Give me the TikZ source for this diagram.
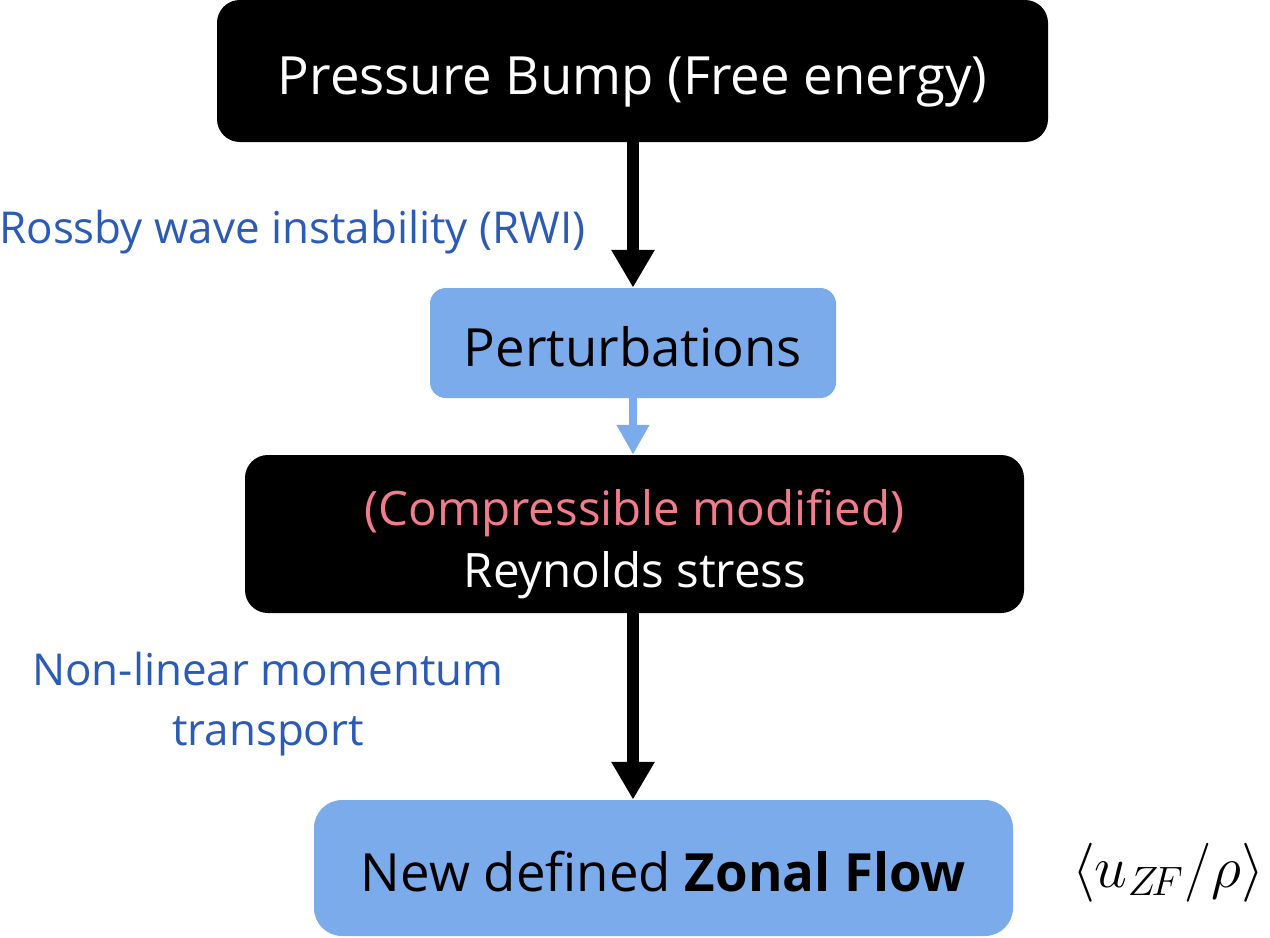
\documentclass[tikz,border=0pt]{standalone}
\usepackage{fontspec}
\setmainfont{Open Sans}
\usetikzlibrary{arrows.meta}
\definecolor{boxblue}{HTML}{7BABEB}
\definecolor{txtblue}{HTML}{2B5BB5}
\definecolor{pink}{HTML}{F27B8C}
\tikzset{
  boxtext/.style={font=\fontsize{30}{36}\selectfont},
  smalltext/.style={font=\fontsize{27}{34}\selectfont, inner sep=0pt, anchor=base},
  blackbox/.style={fill=black, text=white, rounded corners=13pt, inner sep=0pt, boxtext, text height=26.5pt, text depth=0pt},
  bluebox/.style={fill=boxblue, text=black, rounded corners=13pt, inner sep=0pt, boxtext, text height=26.5pt, text depth=0pt},
  blacklink/.style={line width=6.8pt, -{Triangle[length=21.5pt,width=23.2pt]}},
  bluelink/.style={boxblue, line width=5.1pt, -{Triangle[length=17pt,width=17.6pt]}},
  lbl/.style={text=txtblue, font=\fontsize{25}{34}\selectfont, inner sep=0pt, anchor=base}
}
\begin{document}
\begin{tikzpicture}[x=0.02cm,y=-0.02cm]
\useasboundingbox (0,0) rectangle (1270,937);
\node[blackbox, minimum width=831*0.02cm, minimum height=142*0.02cm] (bump) at (632.5,71) {Pressure Bump (Free energy)};
\node[bluebox, rounded corners=9pt, minimum width=406*0.02cm, minimum height=110*0.02cm] (pert) at (633,343) {Perturbations};
\node[blackbox, minimum width=779*0.02cm, minimum height=158*0.02cm] (rey) at (634.5,534) {};
\node[smalltext, text=pink] (reyA) at (634.5,525) {(Compressible modified)};
\node[smalltext, text=white] (reyB) at (635,587) {Reynolds stress};
\node[bluebox, rounded corners=16pt, minimum width=699*0.02cm, minimum height=136*0.02cm] (zf) at (663.5,868) {New defined \textbf{Zonal Flow}};
\draw[blacklink] (bump.south -| 633,0) -- (pert.north -| 633,0);
\draw[bluelink] (pert.south -| 633,0) -- (rey.north -| 633,0);
\draw[blacklink] (rey.south -| 633,0) -- (zf.north -| 633,0);
\node[lbl, anchor=base west] (rwi) at (-1,243) {Rossby wave instability (RWI)};
\node[lbl] (nlm1) at (268,685) {Non-linear momentum};
\node[lbl] (nlm2) at (268,745) {transport};
\node[font=\fontsize{25}{30}\selectfont, inner sep=0pt, anchor=base] (avg) at (1168,887) {\scalebox{1.35}{$\langle u_{Z\!F}/\rho\rangle$}};
\end{tikzpicture}
\end{document}
